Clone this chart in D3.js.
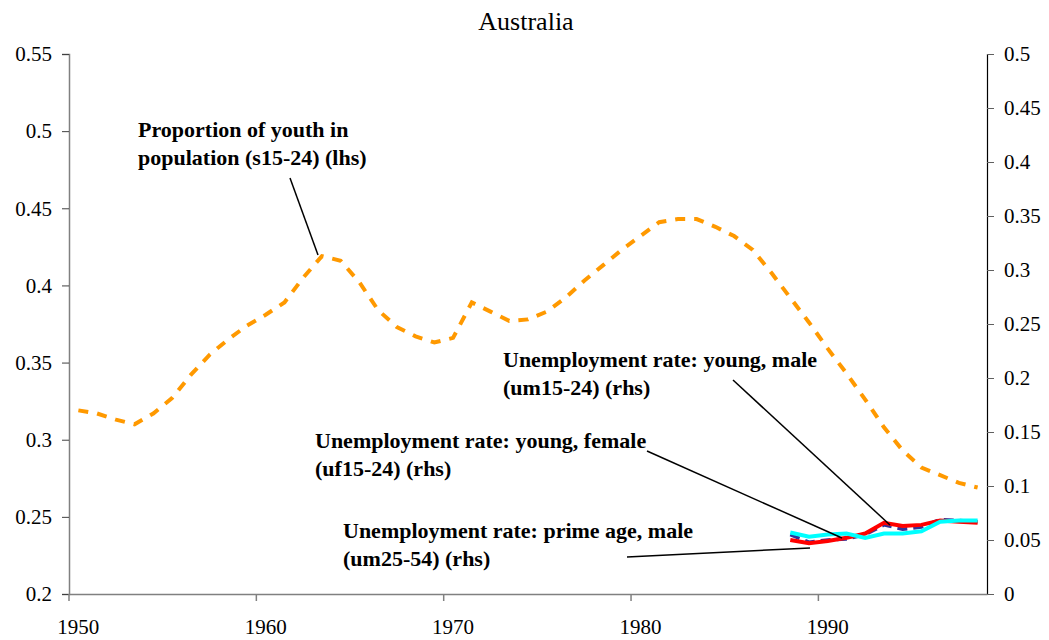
<!DOCTYPE html>
<html>
<head>
<meta charset="utf-8">
<script src="https://cdn.jsdelivr.net/npm/d3@7"></script>
<style>
  body { margin: 0; background: #fff; }
  text { font-family: "Liberation Serif", "Times New Roman", serif; }
</style>
</head>
<body>
<svg id="chart" width="1049" height="640"></svg>
<script>
// --- data ---
const years = d3.range(1950, 1999);           // category axis 1950..1998
const decadeTicks = [1950, 1960, 1970, 1980, 1990];
const leftTicks = [0.2, 0.25, 0.3, 0.35, 0.4, 0.45, 0.5, 0.55];
const rightTicks = [0, 0.05, 0.1, 0.15, 0.2, 0.25, 0.3, 0.35, 0.4, 0.45, 0.5];

// proportion of youth in population, 1950..1998 (lhs)
const s1524 = [0.319, 0.317, 0.313, 0.310, 0.317, 0.327, 0.342, 0.355, 0.365, 0.374,
               0.381, 0.389, 0.405, 0.419, 0.416, 0.402, 0.384, 0.373, 0.367, 0.363,
               0.366, 0.389, 0.383, 0.377, 0.378, 0.383, 0.392, 0.403, 0.413, 0.423,
               0.432, 0.441, 0.443, 0.443, 0.438, 0.432, 0.423, 0.408, 0.392, 0.376,
               0.359, 0.343, 0.326, 0.308, 0.293, 0.282, 0.277, 0.272, 0.269];

// unemployment rates, 1988..1998 (rhs)
const uYears = d3.range(1988, 1999);
const um1524 = [0.050, 0.047, 0.049, 0.052, 0.056, 0.066, 0.063, 0.064, 0.068, 0.067, 0.066];
const uf1524 = [0.057, 0.053, 0.055, 0.056, 0.052, 0.056, 0.056, 0.058, 0.067, 0.068, 0.068];
const um2554 = [0.055, 0.048, 0.050, 0.051, 0.055, 0.064, 0.060, 0.062, 0.069, 0.068, 0.067];

const svg = d3.select("#chart");
const L = 69, R = 987, T = 54, B = 594;

const x = d3.scaleBand().domain(years).range([L, R]).padding(0);
const xc = d => x(d) + x.bandwidth() / 2;
const yL = d3.scaleLinear().domain([0.2, 0.55]).range([B, T]);
const yR = d3.scaleLinear().domain([0, 0.5]).range([B, T]);

const fmt = d => String(+d.toFixed(2));

// title
svg.append("text").attr("x", 526).attr("y", 30).attr("text-anchor", "middle")
  .attr("font-size", 26).text("Australia");

// left axis
const gl = svg.append("g").attr("transform", `translate(${L},0)`)
  .call(d3.axisLeft(yL).tickValues(leftTicks).tickSize(7).tickPadding(10).tickFormat(fmt));
gl.select(".domain").attr("stroke", "#808080").attr("stroke-width", 1.5);
gl.selectAll(".tick line").attr("stroke", "#404040");
gl.selectAll("text").attr("font-size", 21).attr("font-family", "Liberation Serif").attr("fill", "#000");

// right axis
const gr = svg.append("g").attr("transform", `translate(${R},0)`)
  .call(d3.axisRight(yR).tickValues(rightTicks).tickSize(7).tickPadding(10).tickFormat(fmt));
gr.select(".domain").attr("stroke", "#000").attr("stroke-width", 1.2);
gr.selectAll(".tick line").attr("stroke", "#606060");
gr.selectAll("text").attr("font-size", 21).attr("font-family", "Liberation Serif").attr("fill", "#000");

// bottom axis: labels centred on the category, ticks on category edges
const gb = svg.append("g").attr("transform", `translate(0,${B})`)
  .call(d3.axisBottom(x).tickValues(decadeTicks).tickSize(0).tickPadding(25));
gb.select(".domain").attr("stroke", "#808080").attr("stroke-width", 1.5);
gb.selectAll("text").attr("font-size", 21).attr("font-family", "Liberation Serif").attr("fill", "#000");
gb.selectAll(".xt").data(decadeTicks).join("line").attr("class", "xt")
  .attr("x1", d => x(d)).attr("x2", d => x(d)).attr("y1", 0).attr("y2", 7)
  .attr("stroke", "#808080").attr("stroke-width", 1.5);

// series
const lineL = d3.line().x((d, i) => xc(years[i])).y(d => yL(d));
const lineR = d3.line().x((d, i) => xc(uYears[i])).y(d => yR(d));

svg.append("path").datum(s1524).attr("d", lineL).attr("fill", "none")
  .attr("stroke", "#FF9900").attr("stroke-width", 4).attr("stroke-dasharray", "10,9");

svg.append("path").datum(um2554).attr("d", lineR).attr("fill", "none")
  .attr("stroke", "#333399").attr("stroke-width", 3.5).attr("stroke-dasharray", "10,6");
svg.append("path").datum(um1524).attr("d", lineR).attr("fill", "none")
  .attr("stroke", "#FF0000").attr("stroke-width", 4);
svg.append("path").datum(uf1524).attr("d", lineR).attr("fill", "none")
  .attr("stroke", "#00FFFF").attr("stroke-width", 4);

// annotations
const notes = [
  { lines: ["Proportion of youth in", "population (s15-24) (lhs)"], x: 138, y: 137, from: [290, 178], to: [318, 255] },
  { lines: ["Unemployment rate: young, male", "(um15-24) (rhs)"], x: 503, y: 367, from: [733, 380], to: [890, 525] },
  { lines: ["Unemployment rate: young, female", "(uf15-24) (rhs)"], x: 315, y: 448, from: [647, 451], to: [842, 538] },
  { lines: ["Unemployment rate: prime age, male", "(um25-54) (rhs)"], x: 343, y: 538, from: [627, 557], to: [810, 548] }
];
notes.forEach(n => {
  svg.append("line").attr("x1", n.from[0]).attr("y1", n.from[1]).attr("x2", n.to[0]).attr("y2", n.to[1])
    .attr("stroke", "#000").attr("stroke-width", 1.5);
  const t = svg.append("text").attr("x", n.x).attr("y", n.y)
    .attr("font-size", 22).attr("font-weight", "bold");
  n.lines.forEach((s, i) => t.append("tspan").attr("x", n.x).attr("dy", i ? 28 : 0).text(s));
});
</script>
</body>
</html>
